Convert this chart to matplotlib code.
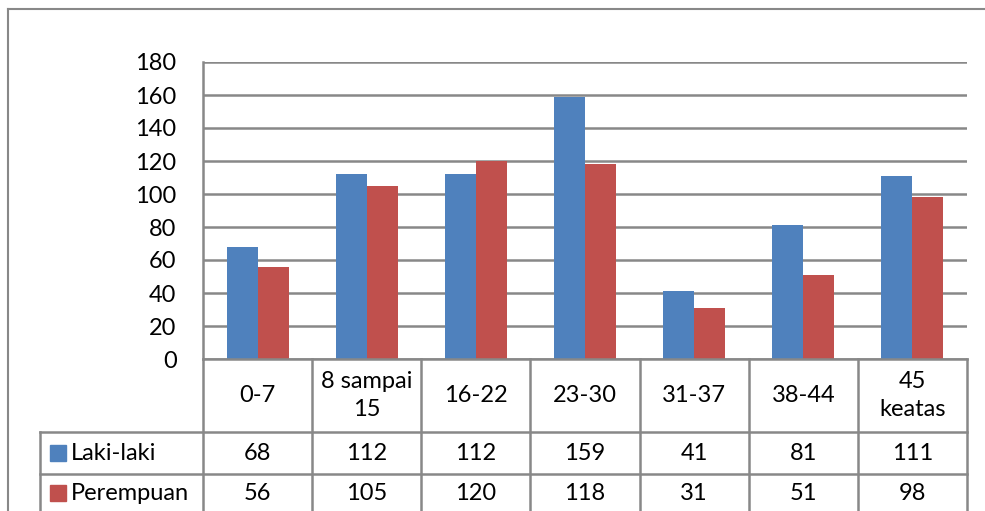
import matplotlib
matplotlib.use("Agg")
import matplotlib.pyplot as plt
from matplotlib.lines import Line2D
from matplotlib.patches import Rectangle
import matplotlib.transforms as mtransforms

categories = ["0-7", "8 sampai\n15", "16-22", "23-30", "31-37", "38-44", "45\nkeatas"]
laki = [68, 112, 112, 159, 41, 81, 111]
perempuan = [56, 105, 120, 118, 31, 51, 98]
series_names = ["Laki-laki", "Perempuan"]
yticks = list(range(0, 181, 20))

BLUE = "#4F81BD"
RED = "#C0504D"
GRID = "#888888"
W, H = 985, 511
FS = 17

plt.rcParams["font.family"] = ["Lato", "DejaVu Sans"]

fig = plt.figure(figsize=(W / 100, H / 100), dpi=100)

def fx(px):
    return px / W

def fy(py):
    return 1 - py / H

# outer chart border
fig.add_artist(Line2D([fx(8), fx(8)], [fy(9), fy(520)], color=GRID, lw=1.5))
fig.add_artist(Line2D([fx(8), fx(990)], [fy(9), fy(9)], color=GRID, lw=1.5))

left, right, top, bottom = 203, 967, 62, 359
ax = fig.add_axes([fx(left), fy(bottom), fx(right - left), fy(top) - fy(bottom)])

n = len(categories)
x = list(range(n))
bw = 31 / ((right - left) / n)
ax.bar([i - bw / 2 for i in x], laki, width=bw, color=BLUE, zorder=3)
ax.bar([i + bw / 2 for i in x], perempuan, width=bw, color=RED, zorder=3)

ax.set_xlim(-0.5, n - 0.5)
ax.set_ylim(0, 180)
ax.set_yticks(yticks)
ax.set_yticklabels([str(v) for v in yticks], fontsize=FS)
ax.tick_params(axis="y", length=0, pad=19)
ax.set_xticks([])
ax.grid(axis="y", color=GRID, lw=1.8, zorder=1)
for s in ["top", "right", "bottom"]:
    ax.spines[s].set_visible(False)
ax.spines["left"].set_color(GRID)
ax.spines["left"].set_linewidth(1.8)

# data table beneath the axes
trans = mtransforms.blended_transform_factory(ax.transData, fig.transFigure)
row_y = [bottom, 432, 474, 516]
for b in [i - 0.5 for i in range(n + 1)]:
    ax.add_artist(Line2D([b, b], [fy(bottom), fy(520)], color=GRID, lw=1.8,
                         transform=trans, clip_on=False))
for ry in row_y[:3]:
    x0 = 40 if ry > bottom else left
    fig.add_artist(Line2D([fx(x0), fx(right)], [fy(ry), fy(ry)], color=GRID, lw=1.8))
fig.add_artist(Line2D([fx(40), fx(40)], [fy(432), fy(520)], color=GRID, lw=1.8))

for i, c in enumerate(categories):
    ax.text(i, fy((row_y[0] + row_y[1]) / 2), c, transform=trans, ha="center",
            va="center", fontsize=FS, linespacing=1.45)
    ax.text(i, fy((row_y[1] + row_y[2]) / 2), str(laki[i]), transform=trans,
            ha="center", va="center", fontsize=FS)
    ax.text(i, fy((row_y[2] + row_y[3]) / 2 - 2), str(perempuan[i]), transform=trans,
            ha="center", va="center", fontsize=FS)

for k, (name, col) in enumerate(zip(series_names, [BLUE, RED])):
    yc = (row_y[1 + k] + row_y[2 + k]) / 2 - (2 if k else 0)
    fig.add_artist(Rectangle((fx(50), fy(yc + 8)), fx(16), fy(yc - 8) - fy(yc + 8),
                             color=col))
    fig.text(fx(71), fy(yc), name, ha="left", va="center", fontsize=FS)

fig.savefig("out.png", dpi=100)
